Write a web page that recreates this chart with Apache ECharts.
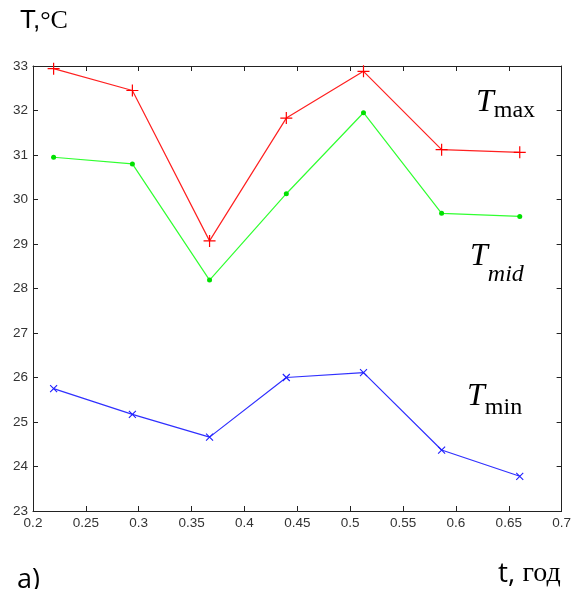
<!DOCTYPE html>
<html>
<head>
<meta charset="utf-8">
<script src="https://cdn.jsdelivr.net/npm/echarts@6/dist/echarts.min.js"></script>
<style>html,body{margin:0;padding:0;background:#fff;}#c{width:574px;height:589px;}</style>
</head>
<body>
<div id="c"></div>
<script>
const tValues = [0.2195, 0.294, 0.367, 0.4396, 0.5126, 0.5865, 0.6604];
const tMax = [32.94, 32.45, 29.07, 31.83, 32.88, 31.12, 31.06];
const tMid = [30.95, 30.80, 28.19, 30.13, 31.95, 29.69, 29.62];
const tMin = [25.75, 25.17, 24.66, 26.00, 26.11, 24.37, 23.78];
const xTicks = [0.2, 0.25, 0.3, 0.35, 0.4, 0.45, 0.5, 0.55, 0.6, 0.65, 0.7];
const yTicks = [23, 24, 25, 26, 27, 28, 29, 30, 31, 32, 33];

const pair = (xs, ys) => xs.map((x, i) => [x, ys[i]]);
const chart = echarts.init(document.getElementById('c'), null, {renderer: 'canvas'});
const labelFont = {color: '#333', fontSize: 13.5, fontFamily: 'Liberation Sans, Arial, sans-serif'};
const axisLine = {show: true, lineStyle: {color: '#222', width: 1}};
const plus = 'path://M0,5L10,5M5,0L5,10';
const cross = 'path://M0,0L10,10M0,10L10,0';
const serif = '"Liberation Serif", "Times New Roman", serif';

chart.setOption({
  animation: false,
  grid: {left: 33, right: 12, top: 66, bottom: 78, containLabel: false},
  xAxis: [
    {type: 'value', min: 0.2, max: 0.7, interval: 0.05, position: 'bottom',
     axisLine: axisLine, axisTick: {show: true, inside: true, length: 5, lineStyle: {color: '#222'}},
     axisLabel: Object.assign({margin: 5, formatter: v => String(+v.toFixed(2))}, labelFont),
     splitLine: {show: false}},
    {type: 'value', min: 0.2, max: 0.7, interval: 0.05, position: 'top',
     axisLine: axisLine, axisTick: {show: true, inside: true, length: 5, lineStyle: {color: '#222'}},
     axisLabel: {show: false}, splitLine: {show: false}}
  ],
  yAxis: [
    {type: 'value', min: 23, max: 33, interval: 1, position: 'left',
     axisLine: axisLine, axisTick: {show: true, inside: true, length: 5, lineStyle: {color: '#222'}},
     axisLabel: Object.assign({margin: 5}, labelFont), splitLine: {show: false}},
    {type: 'value', min: 23, max: 33, interval: 1, position: 'right',
     axisLine: axisLine, axisTick: {show: true, inside: true, length: 5, lineStyle: {color: '#222'}},
     axisLabel: {show: false}, splitLine: {show: false}}
  ],
  series: [
    {type: 'line', data: pair(tValues, tMax), symbol: plus, symbolSize: 12,
     lineStyle: {color: '#ff2020', width: 1.2}, itemStyle: {color: '#ff0000', borderColor: '#ff0000', borderWidth: 1.2}},
    {type: 'line', data: pair(tValues, tMid), symbol: 'circle', symbolSize: 5,
     lineStyle: {color: '#30ff30', width: 1.2}, itemStyle: {color: '#00e000', borderColor: '#00e000', borderWidth: 0}},
    {type: 'line', data: pair(tValues, tMin), symbol: cross, symbolSize: 7,
     lineStyle: {color: '#3030ff', width: 1.2}, itemStyle: {color: '#2020ff', borderColor: '#2020ff', borderWidth: 1.1}}
  ],
  graphic: [
    {type: 'text', left: 20, top: 8, style: {
      text: '{a|T,}{b|°C}',
      rich: {a: {font: '26px "Liberation Sans", Arial, sans-serif', fill: '#000'},
             b: {font: '26px ' + serif, fill: '#000'}}}},
    {type: 'text', left: 476, top: 87, style: {
      text: '{t|T}{s|max}', fill: '#000',
      rich: {t: {font: 'italic 32px ' + serif, fill: '#000', verticalAlign: 'bottom'},
             s: {font: '24px ' + serif, fill: '#000', padding: [0, 0, -4, 0], verticalAlign: 'bottom'}}}},
    {type: 'text', left: 470, top: 241, style: {
      text: '{t|T}{s|mid}', fill: '#000',
      rich: {t: {font: 'italic 32px ' + serif, fill: '#000', verticalAlign: 'bottom'},
             s: {font: 'italic 24px ' + serif, fill: '#000', padding: [0, 0, -14, 0], verticalAlign: 'bottom'}}}},
    {type: 'text', left: 467, top: 381, style: {
      text: '{t|T}{s|min}', fill: '#000',
      rich: {t: {font: 'italic 32px ' + serif, fill: '#000', verticalAlign: 'bottom'},
             s: {font: '24px ' + serif, fill: '#000', padding: [0, 0, -7, 0], verticalAlign: 'bottom'}}}},
    {type: 'text', left: 17, top: 567, style: {text: 'а)', fill: '#000', font: '27px "Open Sans", "Noto Sans", sans-serif'}},
    {type: 'text', left: 498, top: 560, style: {
      text: '{a|t, }{b|год}',
      rich: {a: {font: '28px "Open Sans", "Noto Sans", sans-serif', fill: '#000'},
             b: {font: '28px ' + serif, fill: '#000'}}}}
  ]
});
</script>
</body>
</html>
